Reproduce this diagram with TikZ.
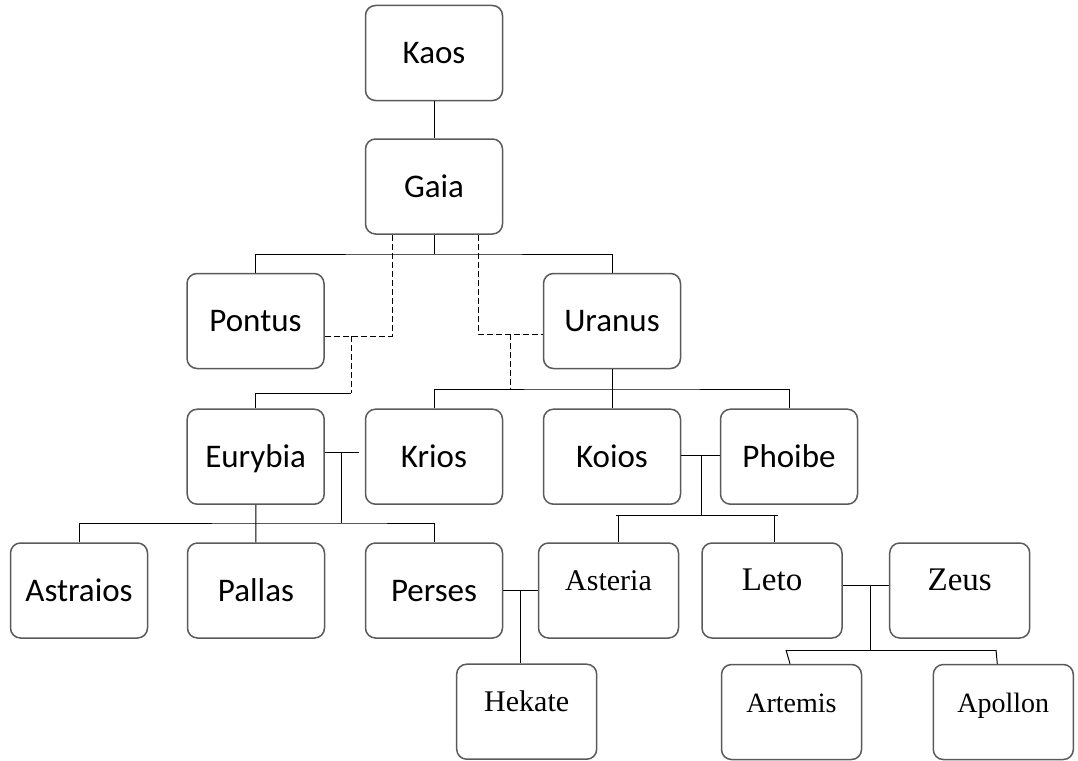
\documentclass[tikz,border=0pt]{standalone}
\usepackage{fontspec}
\setmainfont{Carlito}
\newfontfamily\serifgr{Liberation Serif}
\definecolor{boxline}{HTML}{5A5A5A}

\begin{document}
\begin{tikzpicture}
[x=1pt,y=-1pt
,god/.style={rectangle,rounded corners=10pt,draw=boxline,line width=1.5pt,minimum width=137pt,minimum height=95pt,inner sep=0pt,font=\fontsize{33}{38}\selectfont,text height=21pt,text depth=0pt}
,tgod/.style={god,minimum width=140pt,font=\serifgr\fontsize{30}{36}\selectfont,text height=10pt,text depth=10pt}
,ln/.style={draw=black,line width=1pt}
,dl/.style={ln,dash pattern=on 6pt off 3pt}]
\useasboundingbox (0,0) rectangle (1078,760);
\node[god] (Kaos) at (434,53) {Kaos};
\node[god] (Gaia) at (434,186.5) {Gaia};
\node[god] (Pontus) at (255.5,321) {Pontus};
\node[god] (Uranus) at (612,321) {Uranus};
\node[god] (Eurybia) at (255.7,456.7) {Eurybia};
\node[god] (Krios) at (434,456.7) {Krios};
\node[god] (Koios) at (612,456.7) {Koios};
\node[god] (Phoibe) at (789,456.7) {Phoibe};
\node[god] (Astraios) at (79,590.5) {Astraios};
\node[god] (Pallas) at (256,590.5) {Pallas};
\node[god] (Perses) at (434,590.5) {Perses};
\node[tgod] (Asteria) at (608.5,590.5) {Asteria};
\node[tgod,font=\serifgr\fontsize{33}{40}\selectfont] (Leto) at (772,590.5) {Leto};
\node[tgod,font=\serifgr\fontsize{33}{40}\selectfont] (Zeus) at (959.7,590.5) {Zeus};
\node[tgod] (Hekate) at (526.7,711.7) {Hekate};
\node[tgod,font=\serifgr\fontsize{28}{34}\selectfont] (Artemis) at (791.5,712) {Artemis};
\node[tgod,font=\serifgr\fontsize{28}{34}\selectfont] (Apollon) at (1003.3,712) {Apollon};
% junction points
\coordinate (gbar) at (434,254);
\coordinate (pdash) at (392,336);
\coordinate (pdrop) at (351,336);
\coordinate (ebend) at (351,393);
\coordinate (udash) at (478,334);
\coordinate (udrop) at (510,334);
\coordinate (ubar) at (612,389);
\coordinate (ekend) at (359,452);
\coordinate (ektop) at (341,452);
\coordinate (ebar) at (341,523);
\coordinate (kptop) at (701,455);
\coordinate (kpbar) at (701,515);
\coordinate (kpleft) at (616,515);
\coordinate (kpright) at (778,515);
\coordinate (adrop) at (618,515);
\coordinate (ldrop) at (774,515);
\coordinate (patop) at (520,590);
\coordinate (lztop) at (870,585);
\coordinate (lzbar) at (870,650);
\coordinate (lzleft) at (786,650);
\coordinate (lzright) at (996,650);
\draw[ln] (Kaos) -- (Gaia);
\draw[ln] (Gaia) -- (gbar);
\draw[ln] (Pontus.north) |- (gbar) -| (Uranus.north);
\draw[dl] (pdash |- Gaia.south) -- (pdash) -- (Pontus.east |- pdash);
\draw[dl] (pdrop) -- (ebend);
\draw[ln] (ebend) -| (Eurybia.north);
\draw[dl] (udash |- Gaia.south) -- (udash) -- (Uranus.west |- udash);
\draw[dl] (udrop) -- (udrop |- ubar);
\draw[ln] (Uranus) -- (Koios);
\draw[ln] (Krios.north) |- (ubar) -| (Phoibe.north);
\draw[ln] (Eurybia.east |- ekend) -- (ekend);
\draw[ln] (ektop) -- (ebar);
\draw[ln] (Eurybia) -- (Pallas);
\draw[ln] (Astraios.north) |- (ebar) -| (Perses.north);
\draw[ln] (Koios.east |- kptop) -- (Phoibe.west |- kptop);
\draw[ln] (kptop) -- (kpbar);
\draw[ln] (kpleft) -- (kpright);
\draw[ln] (adrop) -- (adrop |- Asteria.north);
\draw[ln] (ldrop) -- (ldrop |- Leto.north);
\draw[ln] (Perses) -- (Asteria);
\draw[ln] (patop) -- (patop |- Hekate.north);
\draw[ln] (Leto.east |- lztop) -- (Zeus.west |- lztop);
\draw[ln] (lztop) -- (lzbar);
\draw[ln] (lzleft) -- (lzright);
\draw[ln] (lzleft) -- ([xshift=-1.5pt]Artemis.north);
\draw[ln] (lzright) -- ([xshift=-6pt]Apollon.north);
\end{tikzpicture}
\end{document}
